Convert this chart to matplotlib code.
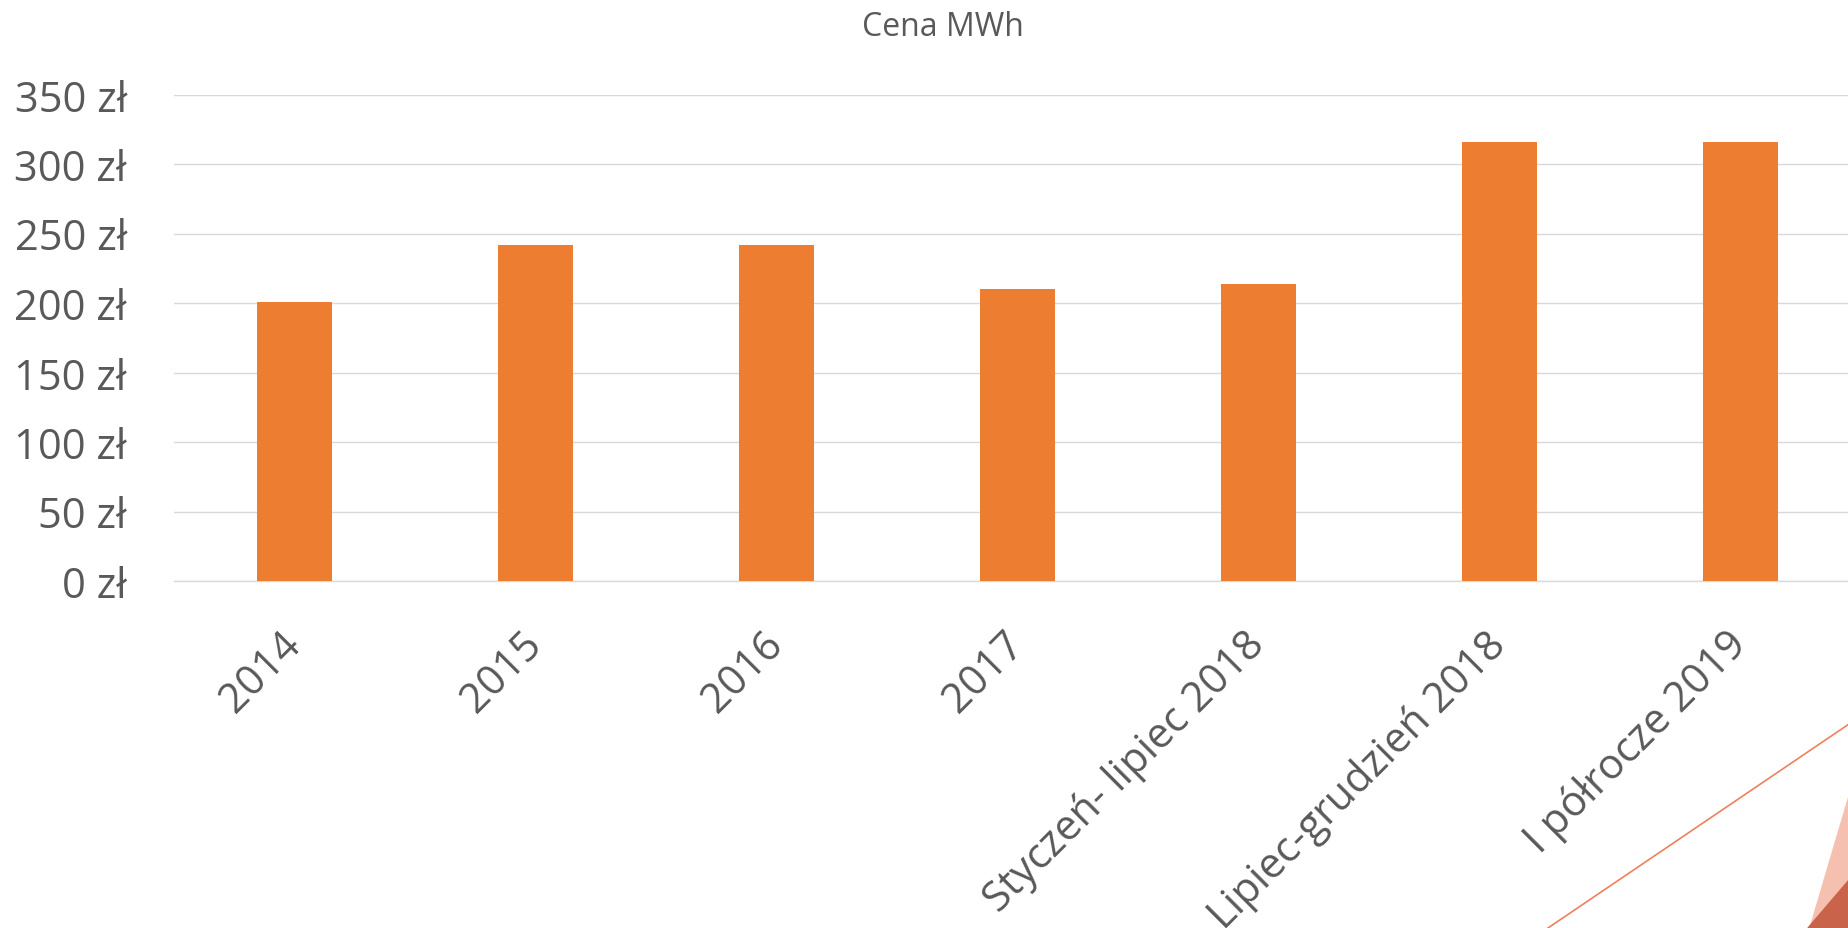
import matplotlib.pyplot as plt
from matplotlib.patches import Polygon
from matplotlib.lines import Line2D

plt.rcParams['font.family'] = ['Open Sans', 'DejaVu Sans']

# Data
periods = ["2014", "2015", "2016", "2017", "Styczeń- lipiec 2018",
           "Lipiec-grudzień 2018", "I półrocze 2019"]
prices = [201, 242, 242, 210, 214, 316, 316]
yticks = [0, 50, 100, 150, 200, 250, 300, 350]

W, H = 1849, 929
fig = plt.figure(figsize=(W / 100, H / 100), dpi=100)
ax = fig.add_axes([174 / W, 1 - 582 / H, 1687 / W, (582 - 95.5) / H])

grey = '#595959'
x = range(len(periods))
ax.bar(x, prices, width=0.315, color='#ED7D31', zorder=3)

ax.set_xlim(-0.5, len(periods) - 0.5)
ax.set_ylim(0, 350)
ax.set_yticks(yticks)
ax.set_yticklabels([f'{v} zł' for v in yticks], fontsize=30, color=grey)
ax.set_xticks(list(x))
ax.set_xticklabels(periods, fontsize=30, color=grey, rotation=45,
                   ha='right', va='center', rotation_mode='anchor')
ax.tick_params(axis='x', length=0, pad=41)
ax.tick_params(axis='y', length=0, pad=34)
ax.grid(axis='y', color='#D9D9D9', linewidth=1.0, zorder=0)
for s in ['top', 'right', 'left']:
    ax.spines[s].set_visible(False)
ax.spines['bottom'].set_color('#D9D9D9')
ax.spines['bottom'].set_linewidth(1.0)

fig.text(943 / W, 1 - 28 / H, 'Cena MWh', fontsize=23, color=grey,
         ha='center', va='center')

# slide decoration in the bottom right corner
def px(pts):
    return [(a / W, 1 - b / H) for a, b in pts]

fig.add_artist(Line2D([1548 / W, 1.0], [0, 1 - 725 / H], color='#F07F5E',
                      linewidth=1.2, transform=fig.transFigure))
fig.add_artist(Polygon(px([(1849, 797), (1810, 929), (1849, 929)]),
                       closed=True, color='#F5C0AF', transform=fig.transFigure))
fig.add_artist(Polygon(px([(1849, 881), (1808, 929), (1849, 929)]),
                       closed=True, color='#C9644A', transform=fig.transFigure))

plt.savefig('out.png', dpi=100)
